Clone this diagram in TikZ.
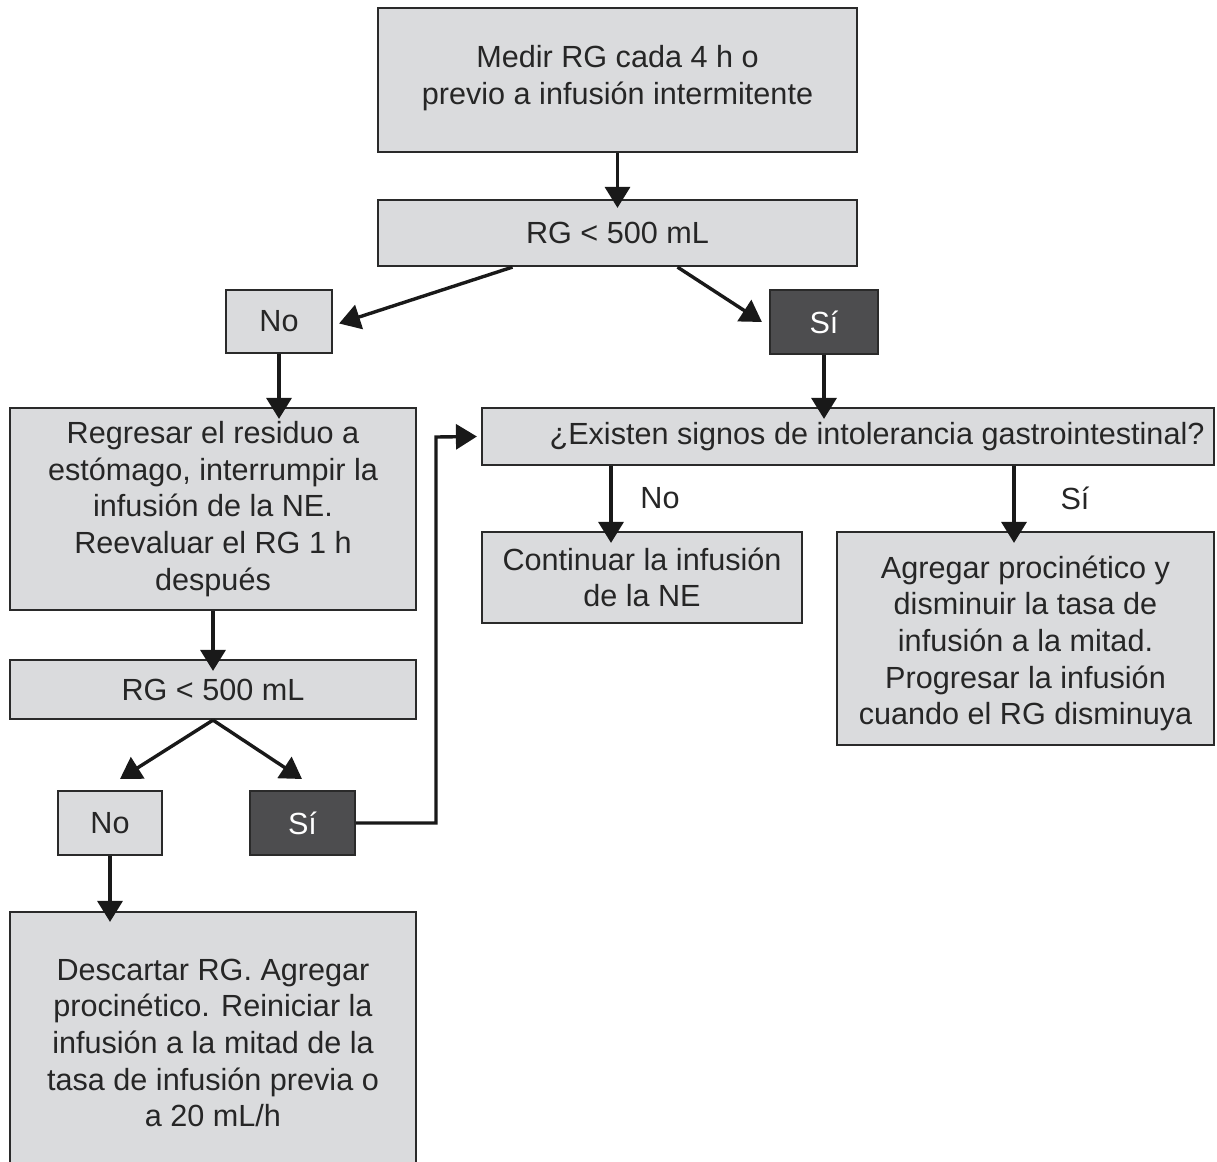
\documentclass[tikz,border=0pt]{standalone}
\usepackage{fontspec}
\setmainfont{Liberation Sans}
\usetikzlibrary{arrows.meta,positioning}
\definecolor{boxfill}{HTML}{DADBDD}
\definecolor{boxdark}{HTML}{4D4D4F}
\definecolor{edge}{HTML}{2A2A2A}
\definecolor{ink}{HTML}{262626}
\tikzset{
  boxtext/.style={text=ink, align=center, inner sep=0pt,
    font=\fontsize{30.6}{36.7}\selectfont},
  box/.style={boxtext, draw=edge, line width=2.2pt, fill=boxfill},
  darkbox/.style={box, fill=boxdark, text=white},
  arr/.style={draw=black!90, line width=3.4pt,
    -{Triangle[width=25pt,length=21pt]}},
  lbl/.style={boxtext}
}
\begin{document}
\begin{tikzpicture}[x=1pt,y=-1pt]
\clip (0,0) rectangle (1217,1161);
\fill[white] (0,0) rectangle (1217,1161);

% boxes
\node[box, minimum width=479pt, minimum height=144pt,
  label={[boxtext,yshift=2pt]center:{Medir RG cada 4 h o\\previo a infusión intermitente}}]
  (top) at (617.5,80) {};
\node[box, minimum width=479pt, minimum height=66pt] (rg1) at (617.5,233) {RG < 500 mL};
\node[box, minimum width=106pt, minimum height=63pt] (no1) at (279,321.5) {No};
\node[darkbox, minimum width=108pt, minimum height=64pt] (si1) at (824,322) {Sí};
\node[box, minimum width=406pt, minimum height=202pt] (reg) at (213,509)
  {Regresar el residuo a\\estómago, interrumpir la\\infusión de la NE.\\Reevaluar el RG 1 h\\después};
\node[box, minimum width=732pt, minimum height=57pt] (ex) at (848,436.5)
  {\hspace*{58pt}¿Existen signos de intolerancia gastrointestinal?};
\node[box, minimum width=320pt, minimum height=91pt] (cont) at (642,577.5)
  {Continuar la infusión\\de la NE};
\node[box, minimum width=377pt, minimum height=213pt,
  label={[boxtext,yshift=-5pt]center:{Agregar procinético y\\disminuir la tasa de\\infusión a la mitad.\\Progresar la infusión\\cuando el RG disminuya}}]
  (agr) at (1025.5,638.5) {};
\node[box, minimum width=406pt, minimum height=59pt] (rg2) at (213,689.5) {RG < 500 mL};
\node[box, minimum width=104pt, minimum height=64pt] (no2) at (110,823) {No};
\node[darkbox, minimum width=105pt, minimum height=64pt] (si2) at (302.5,823) {Sí};
\node[box, minimum width=406pt, minimum height=262pt] (desc) at (213,1043)
  {Descartar RG. Agregar\\procinético. Reiniciar la\\infusión a la mitad de la\\tasa de infusión previa o\\a 20 mL/h};

% connectors
\draw[arr] (top.south) -- ([yshift=-9pt]rg1.north);
\draw[arr] ([xshift=-105pt]rg1.south) -- ([xshift=6pt,yshift=-2pt]no1.east);
\draw[arr] ([xshift=60pt]rg1.south) -- ([xshift=-7pt]si1.west);
\draw[arr] (no1.south) -- ([yshift=-12pt]reg.north -| no1.south);
\draw[arr] (si1.south) -- ([yshift=-12pt]ex.north -| si1.south);
\draw[arr] ([xshift=-237pt]ex.south) -- ([yshift=-12pt]cont.north -| 611,0);
\draw[arr] ([xshift=166pt]ex.south) -- ([yshift=-12pt]agr.north -| 1014,0);
\draw[arr] (reg.south) -- ([yshift=-12pt]rg2.north);
\draw[arr] (rg2.south) -- (120,779);
\draw[arr] (rg2.south) -- (302,779);
\draw[arr] (no2.south) -- ([yshift=-11pt]desc.north -| no2.south);
\draw[arr] (si2.east) -- (436,823) -- (436,437) -- ([xshift=-4pt]ex.west);

% branch labels
\node[lbl] (lno) at (660,498) {No};
\node[lbl] (lsi) at (1075,498) {Sí};
\end{tikzpicture}
\end{document}
